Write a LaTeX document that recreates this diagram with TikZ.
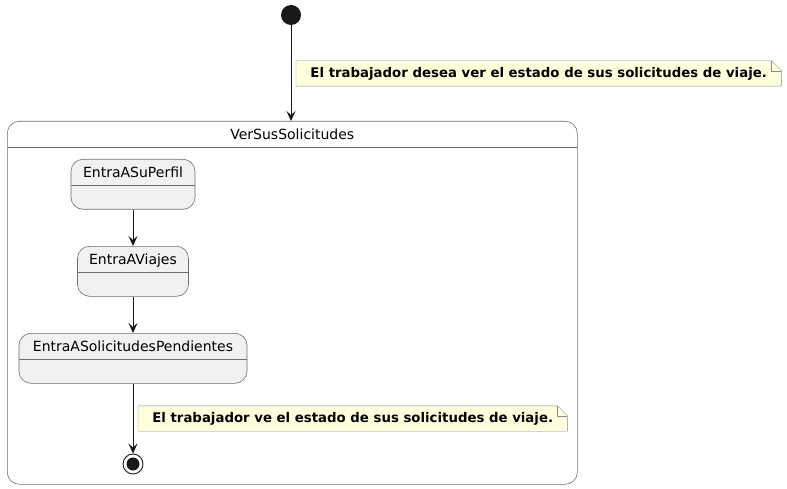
\documentclass[tikz,border=0pt]{standalone}
\usepackage{fontspec}
\setmainfont{DejaVu Sans}
\usetikzlibrary{arrows.meta}
\definecolor{statefill}{HTML}{F1F1F1}
\definecolor{stateline}{HTML}{6E6E6E}
\definecolor{notefill}{HTML}{FEFFDD}
\definecolor{noteline}{HTML}{8A8A8A}
\definecolor{ink}{HTML}{181818}

\begin{document}
\begin{tikzpicture}[x=1pt,y=-1pt,
statebox/.style={draw=stateline,line width=0.6pt,fill=statefill,rounded corners=12pt,inner sep=0pt,
  text height=18pt,text depth=32pt,font=\fontsize{14}{16}\selectfont,
  path picture={\draw[stateline,line width=0.6pt] ([yshift=-26pt]path picture bounding box.north west)
    -- ([yshift=-26pt]path picture bounding box.north east);}},
notebox/.style={inner sep=0pt,minimum height=25pt,anchor=west,font=\bfseries\fontsize{13.3}{15}\selectfont,
  path picture={\fill[notefill] (path picture bounding box.south west) -- (path picture bounding box.north west)
    -- ([xshift=-10pt]path picture bounding box.north east) -- ([yshift=-10pt]path picture bounding box.north east)
    -- (path picture bounding box.south east) -- cycle;}},
trans/.style={draw=ink,line width=1pt,-{Stealth[length=10pt,width=9pt,inset=4pt]}}]
\useasboundingbox (0,0) rectangle (787,489);

\node[circle,fill=ink,minimum size=20pt,inner sep=0pt] (start) at (291,15) {};

% Composite state with its sub-states
\node[statebox,fill=white,anchor=north west,minimum width=570pt,text depth=345pt] (comp) at (7,121) {VerSusSolicitudes};
\node[statebox,anchor=north,minimum width=124pt] (perfil) at (133,159) {EntraASuPerfil};
\node[statebox,anchor=north,minimum width=111pt] (viajes) at (133,246) {EntraAViajes};
\node[statebox,anchor=north,minimum width=228pt] (pendientes) at (133,333) {EntraASolicitudesPendientes};

\node[circle,draw=ink,line width=0.9pt,minimum size=20pt,inner sep=0pt] (stop) at (133,464) {};
\node[circle,fill=ink,minimum size=13pt,inner sep=0pt] (stopdot) at (stop) {};

\draw[trans] (start) -- (start |- comp.north);
\draw[trans] (perfil) -- (viajes);
\draw[trans] (viajes) -- (pendientes);
\draw[trans] (pendientes) -- (stop);

% Notes
\node[notebox,minimum width=485pt] (note1) at (296,73.5) {El trabajador desea ver el estado de sus solicitudes de viaje.};
\node[notebox,minimum width=429pt] (note2) at (138,418.5) {El trabajador ve el estado de sus solicitudes de viaje.};
\foreach \n in {note1,note2} {
  \draw[noteline] (\n.south west) -- (\n.north west) -- ([xshift=-10pt]\n.north east)
    -- ([yshift=-10pt]\n.north east) -- (\n.south east) -- cycle;
  \draw[noteline] ([xshift=-10pt]\n.north east) |- ([yshift=-10pt]\n.north east);
}

\end{tikzpicture}
\end{document}
